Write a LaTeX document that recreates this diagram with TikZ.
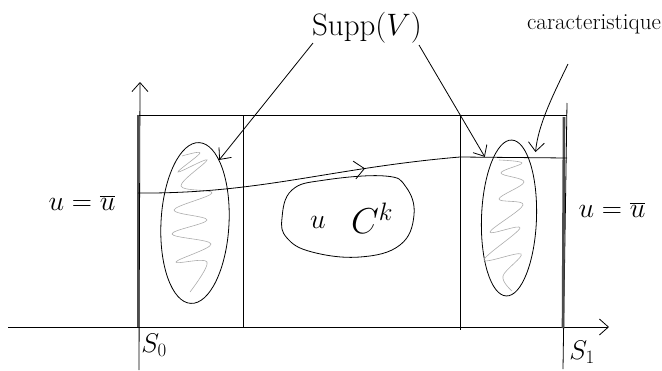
\RequirePackage{fix-cm}
\documentclass[tikz,border=0pt]{standalone}
\usepackage{fontspec}
\usetikzlibrary{arrows.meta,shapes.geometric,decorations.markings}
\begin{document}
\begin{tikzpicture}[x=1pt,y=-1pt,line width=0.8pt,
  barb/.style={-{Straight Barb[length=9pt,width=16pt]}},
  suppell/.style={draw,ellipse,inner sep=0pt},
  thickedge/.style={line width=2.6pt,black!70},
  scribble/.style={gray!65,line width=0.6pt},
  lbl/.style={inner sep=1pt}]
\useasboundingbox (0,0) rectangle (662,370);

% axes
\coordinate (hx0) at (8,327);
\coordinate (hx1) at (609,327);
\coordinate (vy0) at (139,370);
\coordinate (vy1) at (140,82);
\draw[barb] (hx0) -- (hx1);
\draw[barb] (vy0) -- (vy1);

% frame
\coordinate (tl) at (138,115);
\coordinate (tr) at (567,115);
\coordinate (rtop) at (567,103);
\coordinate (rbot) at (563,369);
\draw (tl) -- (tr);
\draw (rtop) -- (rbot);
\coordinate (m1t) at (243,115); \coordinate (m1b) at (243,328);
\coordinate (m2t) at (460,115); \coordinate (m2b) at (460,330);
\draw (m1t) -- (m1b);
\draw (m2t) -- (m2b);
\coordinate (l0t) at (138,115); \coordinate (l0b) at (138,327);
\coordinate (r0t) at (564,117); \coordinate (r0b) at (563,328);
\draw[thickedge] (l0t) -- (l0b);
\draw[thickedge] (r0t) -- (r0b);

% supports
\node[suppell,minimum width=68pt,minimum height=161pt,rotate=-3] (le) at (195,223) {};
\node[suppell,minimum width=55pt,minimum height=156pt,rotate=-2] (re) at (509,218) {};
\draw[scribble] plot[smooth,tension=0.6] coordinates {(182,156) (200,153) (178,172) (207,160) (181,186) (212,193) (174,210) (207,220) (172,234) (211,244) (176,262) (207,262) (190,292)};
\draw[scribble] plot[smooth,tension=0.6] coordinates {(499,160) (522,163) (501,173) (524,182) (499,199) (523,205) (490,232) (520,228) (484,260) (521,254) (503,276) (512,291)};

% characteristic
\coordinate (c0) at (138,193);
\coordinate (c1) at (460,157);
\coordinate (c2) at (567,158);
\coordinate (c3) at (535,158);
\draw[postaction={decorate},decoration={markings,mark=at position 0.53 with {\arrow{Straight Barb[length=10pt,width=18pt]}}}]
  (c0) .. controls (260,194) and (330,168) .. (c1) -- (c2);

% central blob
\draw plot[smooth cycle,tension=0.7] coordinates {(282,218) (292,190) (325,180) (385,176) (406,187) (414,215) (400,245) (360,257) (312,252) (287,238)};
\node[lbl,font=\fontsize{28}{30}\selectfont] (uu) at (318,222) {$u$};
\node[lbl,font=\fontsize{36}{38}\selectfont] (ck) at (372,218) {$C^{k}$};

% labels
\node[lbl,font=\fontsize{28}{32}\selectfont] (ul) at (82,203) {$u=\overline{u}$};
\node[lbl,font=\fontsize{28}{32}\selectfont] (ur) at (612,210) {$u=\overline{u}$};
\node[lbl,font=\fontsize{31}{34}\selectfont] (supp) at (367,28) {Supp$(V)$};
\node[lbl,font=\fontsize{23}{26}\selectfont] (car) at (594,24) {caracteristique};
\node[lbl,font=\fontsize{27}{30}\selectfont] (s0) at (154,345) {$S_{0}$};
\node[lbl,font=\fontsize{27}{30}\selectfont] (s1) at (582,352) {$S_{1}$};

% pointers
\coordinate (sa) at (313,43);
\coordinate (sb) at (419,45);
\coordinate (ca) at (568,64);
\draw[barb] (sa) -- (le.72);
\draw[barb,shorten >=10pt] (sb) -- (re.112);
\draw[barb,shorten >=6pt] (ca) .. controls (553,95) and (538,125) .. (c3);
\end{tikzpicture}
\end{document}
